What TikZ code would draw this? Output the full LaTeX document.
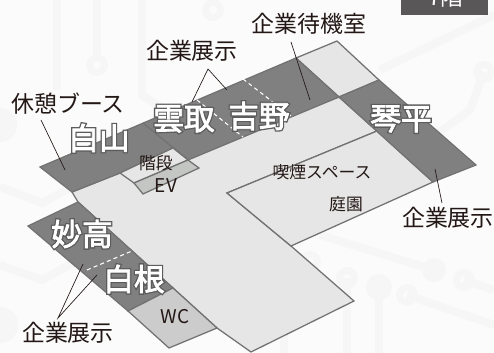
\documentclass[tikz,border=0pt]{standalone}
\usepackage{fontspec}
\setmainfont{Noto Sans CJK JP}
\newfontfamily\roomfont{Noto Sans CJK JP}[FakeBold=2.5]
\newfontfamily\halofont{Noto Sans CJK JP}[FakeBold=11]
\definecolor{paper}{HTML}{FBFBFB}
\definecolor{trace}{HTML}{F6F6F6}
\definecolor{wall}{HTML}{727272}
\definecolor{ink}{HTML}{231815}
\definecolor{lightfloor}{HTML}{E6E6E6}
\definecolor{darkroom}{HTML}{808080}
\definecolor{wcroom}{HTML}{CCCCCC}
\definecolor{evroom}{HTML}{C4C6C4}
\definecolor{badge}{HTML}{595757}
\definecolor{halo}{HTML}{5C5C5C}

\begin{document}
\begin{tikzpicture}[x=0.75pt, y=-0.75pt, font=\fontsize{17.2}{17.2}\selectfont, text=ink,
	floor/.style={draw=wall, line width=0.95pt, line join=miter},
	leader/.style={draw=ink, line width=0.5pt},
	partition/.style={draw=white, line width=0.8pt, dash pattern=on 3pt off 2.4pt},
	roomlabel/.style={text=white, inner sep=0pt, font=\fontsize{23}{23}\roomfont},
	roomhalo/.style={text=halo, inner sep=0pt, font=\fontsize{23}{23}\halofont},
	smalllabel/.style={font=\fontsize{12.6}{12.6}\selectfont, inner sep=0pt},
	latinlabel/.style={font=\fontsize{14.2}{14.2}\selectfont, inner sep=0pt}]
	% The background
	\fill[paper] (0, 0) rectangle (494, 353);
	\useasboundingbox (0, 0) rectangle (494, 353);
	\begin{scope}[draw=trace, line width=6pt]
	\draw (57, 0) -- (57, 90);
	\draw (97, 0) -- (97, 55);
	\draw (142, 0) -- (142, 95) -- (165, 110);
	\draw (0, 187) -- (42, 203) -- (75, 185);
	\draw (0, 265) -- (42, 280) -- (75, 262);
	\draw (320, 235) -- (434, 270);
	\draw (407, 295) -- (494, 325);
	\draw (464, 280) -- (494, 290);
	\draw (347, 278) -- (347, 353);
	\draw (379, 287) -- (379, 353);
	\draw (284, 320) -- (284, 353);
	\draw (380, 70) -- (494, 15);
	\draw (484, 72) -- (470, 110) -- (415, 150);
	\end{scope}
	% Rings and dots of the background
	\foreach \x / \y in {97 / 65, 213 / 10, 347 / 278, 407 / 295, 464 / 280, 484 / 72, 310 / 262}
		\draw[trace, line width=5pt] (\x, \y) circle (7.5);
	\foreach \x / \y / \r in {0 / 125 / 17, 0 / 325 / 18, 434 / 270 / 12, 379 / 287 / 13}
		\fill[trace] (\x, \y) circle (\r);
	% The light floor
	\draw[floor, fill=lightfloor] (72, 192) -- (120, 173) -- (339, 97) -- (377, 131) -- (227, 193) -- (291, 246) -- (354, 301) -- (251, 352) -- (217, 328) -- (173, 288) -- (78, 202) -- cycle;
	\draw[floor, fill=lightfloor] (227, 193) -- (377, 131) -- (433, 182) -- (291, 246) -- cycle;
	\draw[floor, fill=lightfloor] (296, 58) -- (337, 41) -- (379, 80) -- (339, 97) -- cycle;
	% The dark rooms
	\draw[floor, fill=darkroom] (40, 167) -- (296, 58) -- (339, 97) -- (188, 160) -- (173, 148) -- (120, 173) -- (72, 192) -- cycle;
	\draw[floor] (143, 123) -- (188, 160);
	\draw[floor, fill=darkroom] (339, 97) -- (379, 80) -- (476, 165) -- (433, 182) -- cycle;
	\draw[floor, fill=darkroom] (28, 226) -- (78, 202) -- (173, 288) -- (128, 311) -- cycle;
	% Stairs, lift and toilet
	\draw[floor, fill=lightfloor] (120, 173) -- (173, 148) -- (188, 160) -- (134, 183) -- cycle;
	\draw[floor, fill=evroom] (134, 183) -- (188, 160) -- (199, 168) -- (143, 194) -- cycle;
	\draw[floor, fill=wcroom] (128, 311) -- (173, 288) -- (217, 328) -- (169, 348) -- cycle;
	% The partitions
	\draw[partition] (197, 100) -- (243, 137);
	\draw[partition] (243, 79) -- (291, 116);
	\draw[partition] (87, 270) -- (132, 251);
	% The leaders
	\coordinate (tenjiTop) at (208, 69);
	\coordinate (unshuEnd) at (192, 102);
	\coordinate (yoshinoEnd) at (227, 90);
	\coordinate (kyukeiStart) at (41, 120);
	\coordinate (kyukeiEnd) at (65, 170);
	\coordinate (taikiStart) at (291, 42);
	\coordinate (taikiEnd) at (310, 100);
	\coordinate (kotoStart) at (442, 203);
	\coordinate (kotoEnd) at (435, 169);
	\coordinate (tenjiLow) at (58, 318);
	\coordinate (myokoEnd) at (83, 264);
	\coordinate (shiraneEnd) at (97, 275);
	\draw[leader] (unshuEnd) -- (tenjiTop) -- (yoshinoEnd);
	\draw[leader] (kyukeiStart) -- (kyukeiEnd);
	\draw[leader] (taikiStart) -- (taikiEnd);
	\draw[leader] (kotoStart) -- (kotoEnd);
	\draw[leader] (myokoEnd) -- (tenjiLow) -- (shiraneEnd);
	% The descriptions
	\node[inner sep=0pt] (tenjiA) at (192, 51) {企業展示};
	\node[inner sep=0pt] (kyukei) at (68, 104) {休憩ブース};
	\node[inner sep=0pt] (taiki) at (309, 24) {企業待機室};
	\node[inner sep=0pt] (tenjiB) at (448, 218) {企業展示};
	\node[inner sep=0pt] (tenjiC) at (68, 333) {企業展示};
	\node[smalllabel] (kaidan) at (156, 163) {階段};
	\node[latinlabel] (ev) at (166, 186) {EV};
	\node[latinlabel] (wc) at (175, 317) {WC};
	\node[smalllabel] (kitsuen) at (322, 172) {喫煙スペース};
	\node[smalllabel] (teien) at (346, 204) {庭園};
	% The names of the rooms, each on its dark outline
	\foreach \x / \y / \nodename / \roomtext in {99 / 138 / hakusan / 白山, 184 / 119 / unshu / 雲取, 259 / 116 / yoshino / 吉野, 401 / 119 / kotohira / 琴平, 82 / 234 / myoko / 妙高, 134 / 279 / shirane / 白根} {
		\node[roomhalo] (\nodename halo) at (\x, \y) {\roomtext};
		\node[roomlabel] (\nodename) at (\x, \y) {\roomtext};
	}
	% The storey
	\fill[badge] (401, 0) rectangle (488, 15);
	\begin{scope}
	\clip (401, 0) rectangle (488, 15);
	\node[text=white, inner sep=0pt] (storey) at (446, -3) {7階};
	\end{scope}
\end{tikzpicture}
\end{document}
